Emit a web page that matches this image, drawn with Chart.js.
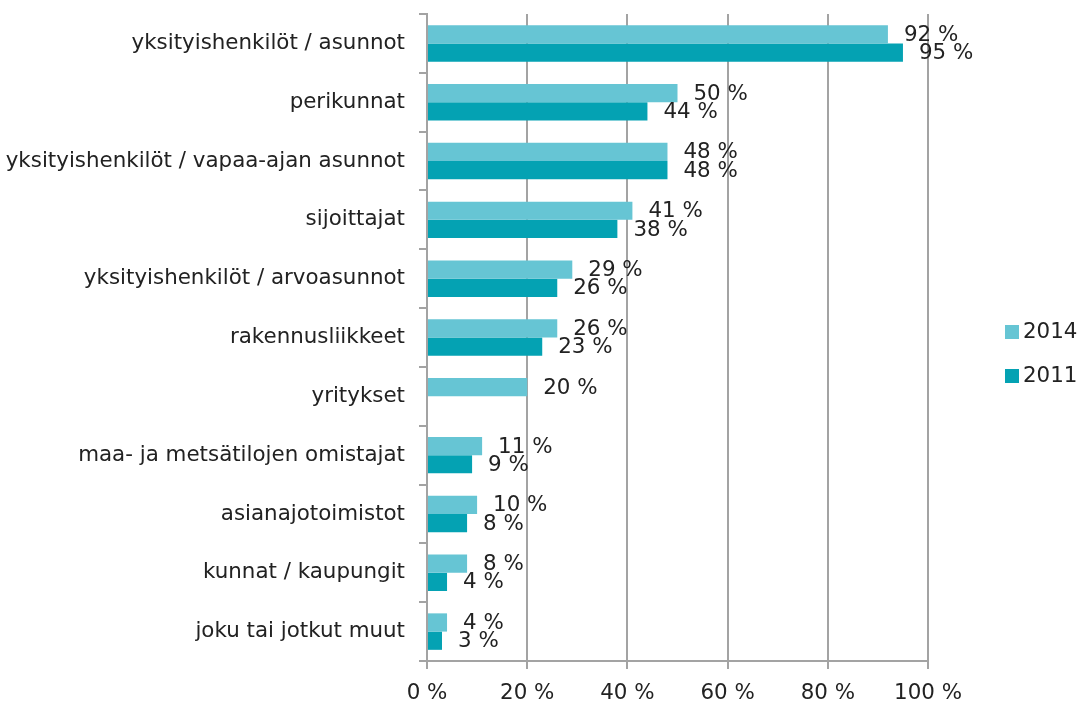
<!DOCTYPE html>
<html lang="fi">
<head>
<meta charset="UTF-8">
<title>Asiakasryhmät 2014 / 2011</title>
<script src="https://cdn.jsdelivr.net/npm/chart.js@4.4.1"></script>
<style>
  html,body{margin:0;padding:0;background:#fff;}
  .wrap{position:relative;width:1083px;height:704px;}
</style>
</head>
<body>
<div class="wrap"><canvas id="chart"></canvas></div>
<script>
const categories = [
  'yksityishenkilöt / asunnot',
  'perikunnat',
  'yksityishenkilöt / vapaa-ajan asunnot',
  'sijoittajat',
  'yksityishenkilöt / arvoasunnot',
  'rakennusliikkeet',
  'yritykset',
  'maa- ja metsätilojen omistajat',
  'asianajotoimistot',
  'kunnat / kaupungit',
  'joku tai jotkut muut'
];
const seriesNames = ['2014', '2011'];
const values2014 = [92, 50, 48, 41, 29, 26, 20, 11, 10, 8, 4];
const values2011 = [95, 44, 48, 38, 26, 23, null, 9, 8, 4, 3];
const xTicks = [0, 20, 40, 60, 80, 100];

const FONT = {family: '"DejaVu Sans", Verdana, sans-serif', size: 21.4};
const TEXT = '#222222';
const GRID = '#a3a3a3';

// value labels right of each bar end
const barLabels = {
  id: 'barLabels',
  afterDatasetsDraw(chart){
    const ctx = chart.ctx;
    ctx.save();
    ctx.font = FONT.size + 'px ' + FONT.family;
    ctx.fillStyle = TEXT;
    ctx.textAlign = 'left';
    ctx.textBaseline = 'middle';
    chart.data.datasets.forEach((ds, di) => {
      chart.getDatasetMeta(di).data.forEach((el, i) => {
        const v = ds.data[i];
        if (v == null) return;
        ctx.fillText(v + ' %', el.x + 16, el.y + 1);
      });
    });
    ctx.restore();
  }
};

// legend on the right, drawn by hand to match spacing
const sideLegend = {
  id: 'sideLegend',
  afterDraw(chart){
    const ctx = chart.ctx, a = chart.chartArea;
    ctx.save();
    ctx.font = FONT.size + 'px ' + FONT.family;
    ctx.textBaseline = 'middle';
    ctx.textAlign = 'left';
    chart.data.datasets.forEach((ds, i) => {
      const x = a.right + 77, y = 332 + i * 44;
      ctx.fillStyle = ds.backgroundColor;
      ctx.fillRect(x, y - 7, 14, 14);
      ctx.fillStyle = TEXT;
      ctx.fillText(ds.label, x + 18, y);
    });
    ctx.restore();
  }
};

new Chart(document.getElementById('chart'), {
  type: 'bar',
  data: {
    labels: categories,
    datasets: [
      {label: seriesNames[0], data: values2014, backgroundColor: '#66c5d4'},
      {label: seriesNames[1], data: values2011, backgroundColor: '#04a2b3'}
    ]
  },
  options: {
    indexAxis: 'y',
    responsive: true,
    maintainAspectRatio: false,
    animation: false,
    layout: {padding: {top: 14, right: 155, left: 0, bottom: 0}},
    datasets: {bar: {categoryPercentage: 0.62, barPercentage: 1.0}},
    plugins: {legend: {display: false}, tooltip: {enabled: false}},
    scales: {
      x: {
        min: 0, max: 100,
        afterBuildTicks: s => { s.ticks = xTicks.map(v => ({value: v})); },
        afterFit: s => { s.height = 43; },
        ticks: {callback: v => v + ' %', font: FONT, color: TEXT, padding: 12, maxRotation: 0},
        grid: {color: GRID, lineWidth: 2, tickLength: 8, drawTicks: true},
        border: {color: GRID, width: 2}
      },
      y: {
        afterFit: s => { s.width = 427; s.paddingTop = 0; s.paddingBottom = 0; },
        ticks: {font: FONT, color: TEXT, padding: 14, autoSkip: false},
        grid: {drawOnChartArea: false, drawTicks: true, tickLength: 8, color: GRID, lineWidth: 2, offset: true},
        border: {color: GRID, width: 2}
      }
    }
  },
  plugins: [barLabels, sideLegend]
});
</script>
</body>
</html>
